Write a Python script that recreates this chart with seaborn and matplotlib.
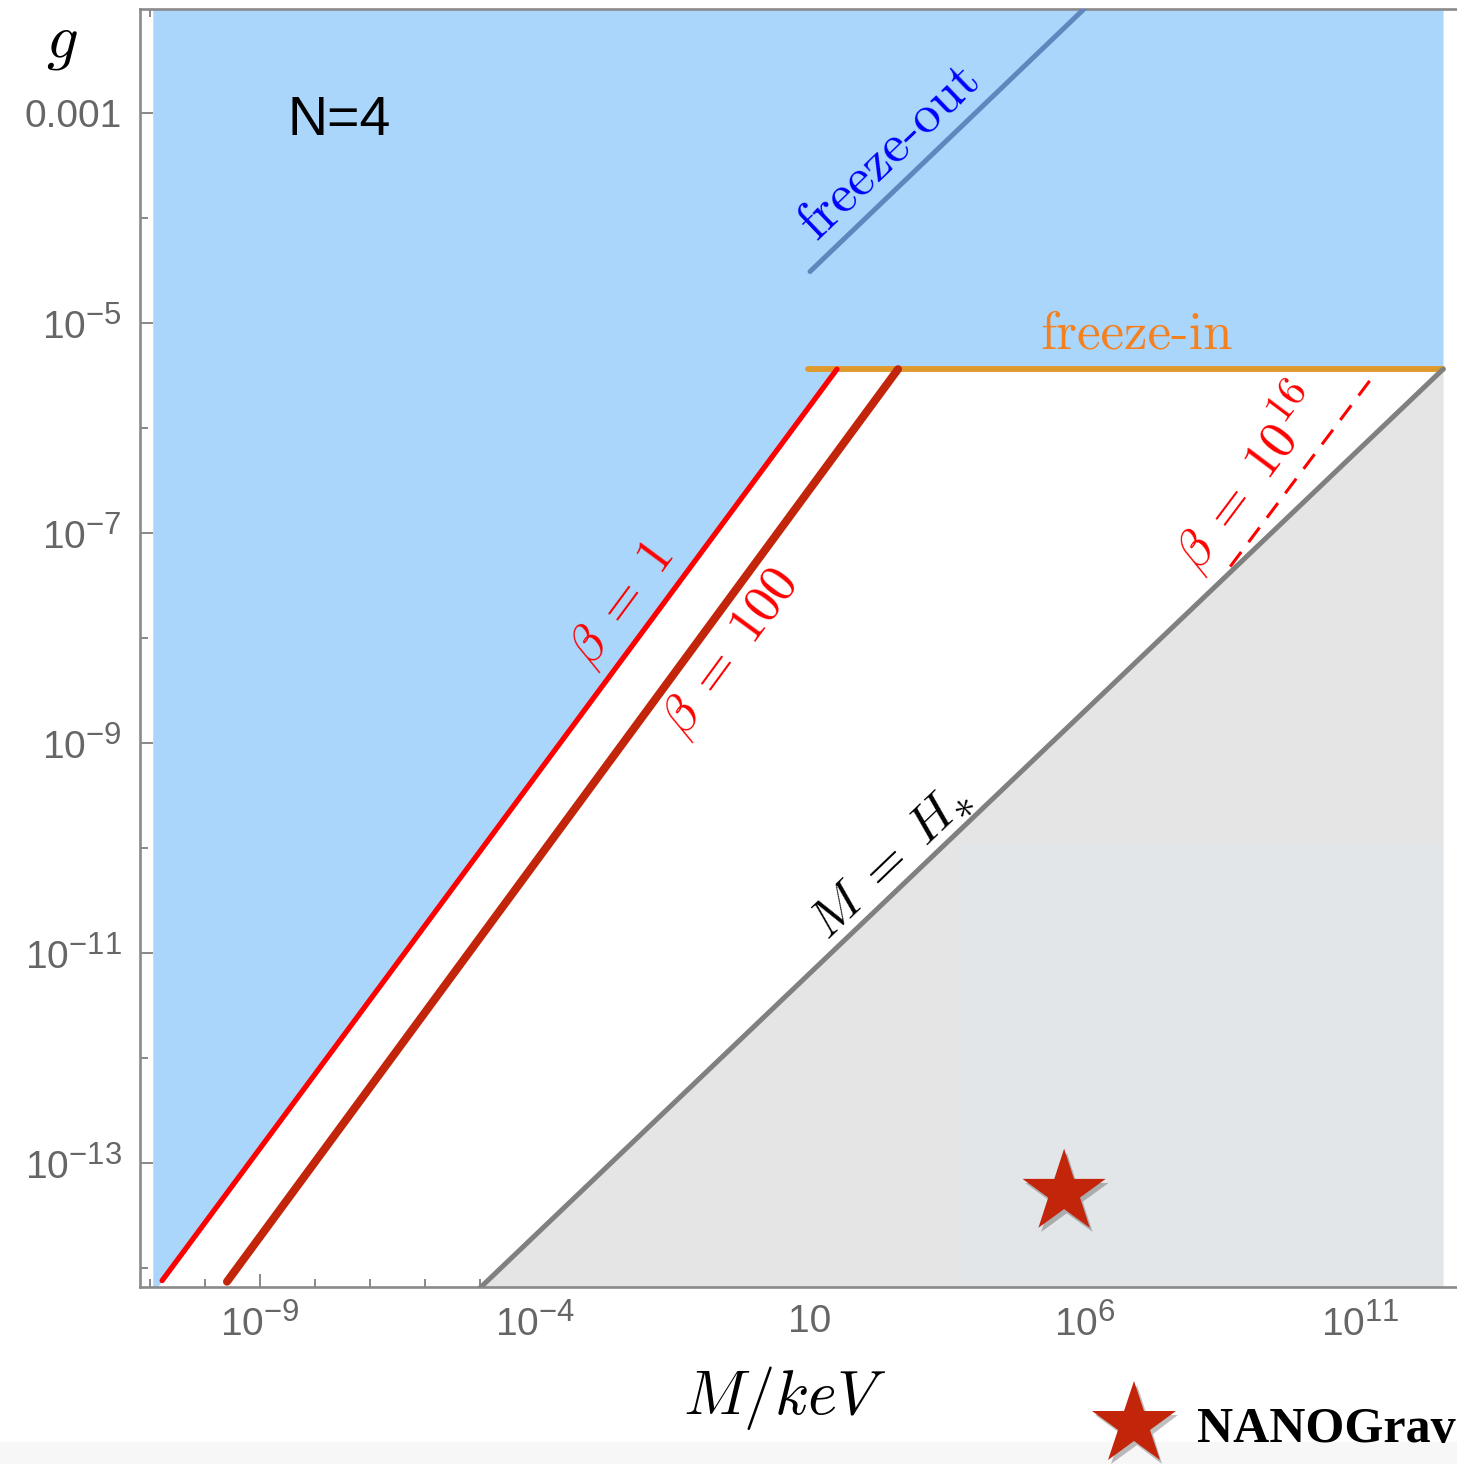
import numpy as np
import matplotlib
matplotlib.use("Agg")
import matplotlib.pyplot as plt
import matplotlib._mathtext as _mt
import seaborn as sns
from matplotlib.lines import Line2D
from matplotlib.patches import Rectangle
from matplotlib.ticker import FixedLocator, NullFormatter
import matplotlib.patheffects as pe

# larger superscripts (Mathematica-like exponent size)
_mt.SHRINK_FACTOR = 0.8

# ---------------- data (log10 of M/keV and of g) ----------------
freeze_out_logM = [1.0, 6.0]
freeze_out_logg = [-4.51, -2.0]
freeze_in_logM = [0.96, 12.51]
freeze_in_logg = [-5.44, -5.44]
beta1_logM = [-10.78, 1.49]
beta1_logg = [-14.12, -5.44]
beta100_logM = [-9.60, 2.60]
beta100_logg = [-14.13, -5.44]
beta100_edge_logM = [-9.55, 2.65]
beta1e16_logM = [8.64, 11.22]
beta1e16_logg = [-7.32, -5.52]
mh_logM = [-5.0, 12.51]
mh_logg = [-14.19, -5.44]
blue_edge_logM = [-10.95, -10.78, 1.49, 12.51]
blue_edge_logg = [-14.24, -14.12, -5.44, -5.44]
inset_logM = [3.69, 12.51]
inset_top_logg = [-9.95, -9.95]
nanograv_logM = [5.62]
nanograv_logg = [-13.28]

xtick_exps = [-9, -4, 1, 6, 11]
xtick_labels = [r"$10^{-9}$", r"$10^{-4}$", "10", r"$10^{6}$", r"$10^{11}$"]
ytick_exps = [-3, -5, -7, -9, -11, -13]
ytick_labels = ["0.001", r"$10^{-5}$", r"$10^{-7}$", r"$10^{-9}$", r"$10^{-11}$", r"$10^{-13}$"]
xminor_exps = [e for e in range(-11, 14) if e not in xtick_exps]
yminor_exps = [e for e in range(-14, -1) if e not in ytick_exps]

def P(a):
    return 10.0 ** np.asarray(a, dtype=float)

# ---------------- style ----------------
sns.set_style("ticks")
plt.rcParams["font.family"] = ["Liberation Sans", "DejaVu Sans"]
plt.rcParams["mathtext.fontset"] = "custom"
plt.rcParams["mathtext.rm"] = "Liberation Sans"
plt.rcParams["mathtext.it"] = "Liberation Sans:italic"
plt.rcParams["mathtext.bf"] = "Liberation Sans:bold"

W, H = 1457, 1464
fig = plt.figure(figsize=(W / 100, H / 100), dpi=100)
fig.patch.set_facecolor("white")
ax = fig.add_axes([140 / W, (H - 1287) / H, (1470 - 140) / W, (1287 - 9) / H])
ax.set_facecolor("white")
ax.set_xscale("log")
ax.set_yscale("log")
ax.set_xlim(10 ** -11.182, 10 ** 13.0)
ax.set_ylim(10 ** -14.181, 10 ** -2.0095)

# ---------------- fills ----------------
ax.fill_between(P(blue_edge_logM), P(blue_edge_logg), 10 ** -1.9,
                color="#aad6fc", lw=0, zorder=1)
ax.fill_between(P(mh_logM), P(mh_logg), 10 ** -14.5,
                color="#e5e5e5", lw=0, zorder=1)
ax.fill_between(P(inset_logM), P(inset_top_logg), 10 ** -14.5,
                color="#e3e6e9", lw=0, zorder=1.1)

# ---------------- lines ----------------
sns.lineplot(x=P(freeze_out_logM), y=P(freeze_out_logg), ax=ax, color="#5f87bd",
             lw=3.6, legend=False, zorder=3)
sns.lineplot(x=P(freeze_in_logM), y=P(freeze_in_logg), ax=ax, color="#e0992b",
             lw=4.2, legend=False, zorder=3)
sns.lineplot(x=P(mh_logM), y=P(mh_logg), ax=ax, color="#808080",
             lw=3.6, legend=False, zorder=3)
sns.lineplot(x=P(beta1_logM), y=P(beta1_logg), ax=ax, color="#ff0000",
             lw=3.8, legend=False, zorder=4)
sns.lineplot(x=P(beta100_edge_logM), y=P(beta100_logg), ax=ax, color="#2fb52f",
             lw=1.2, legend=False, zorder=3.9)
sns.lineplot(x=P(beta100_logM), y=P(beta100_logg), ax=ax, color="#c3250b",
             lw=5.8, legend=False, zorder=4)
sns.lineplot(x=P(beta1e16_logM), y=P(beta1e16_logg), ax=ax, color="#ff0000",
             lw=2.2, legend=False, zorder=4, linestyle=(0, (6, 4)))

# ---------------- NANOGrav star ----------------
shadow = [pe.SimplePatchShadow(offset=(2, -3), shadow_rgbFace="k", alpha=0.25), pe.Normal()]
sns.scatterplot(x=P(nanograv_logM), y=P(nanograv_logg), ax=ax, marker="*",
                s=63 ** 2, color="#c3250b", linewidth=0, legend=False, zorder=5)
for coll in ax.collections[-1:]:
    coll.set_path_effects(shadow)

# ---------------- ticks & spines ----------------
ax.xaxis.set_major_locator(FixedLocator(P(xtick_exps)))
ax.set_xticklabels(xtick_labels)
ax.xaxis.set_minor_locator(FixedLocator(P(xminor_exps)))
ax.xaxis.set_minor_formatter(NullFormatter())
ax.yaxis.set_major_locator(FixedLocator(P(ytick_exps)))
ax.set_yticklabels(ytick_labels)
ax.yaxis.set_minor_locator(FixedLocator(P(yminor_exps)))
ax.yaxis.set_minor_formatter(NullFormatter())

ax.tick_params(which="both", direction="in", top=True, right=True,
               color="#888888", width=1.4, labelcolor="#666666", labelsize=28)
ax.tick_params(which="major", length=9.5)
ax.tick_params(which="minor", length=6)
ax.tick_params(axis="x", which="major", pad=12)
ax.tick_params(axis="y", which="major", pad=13)
for s in ax.spines.values():
    s.set_color("#8a8a8a")
    s.set_linewidth(1.9)
    s.set_visible(True)
ax.grid(False)

# ---------------- annotations ----------------
fig.canvas.draw()

def angle_of(xs, ys):
    p = ax.transData.transform(np.column_stack([P(xs), P(ys)]))
    return np.degrees(np.arctan2(p[-1, 1] - p[0, 1], p[-1, 0] - p[0, 0]))

ax.text(10 ** -7.56, 10 ** -3.08, "N=4", fontsize=40, color="black",
        ha="center", va="center", family="Liberation Sans", zorder=6)
ax.text(10 ** 2.45, 10 ** -3.37, "freeze-out", fontsize=39, color="#0000ff",
        family="cmr10", ha="center", va="center", rotation_mode="anchor",
        rotation=angle_of(freeze_out_logM, freeze_out_logg), zorder=6)
ax.text(10 ** 6.945, 10 ** -5.11, "freeze-in", fontsize=38, color="#f5801e",
        family="cmr10", ha="center", va="center", zorder=6)
ax.text(10 ** -2.42, 10 ** -7.68, r"$\beta\;=\;1$", fontsize=38, color="#ff0000",
        math_fontfamily="cm", ha="center", va="center", rotation_mode="anchor",
        rotation=angle_of(beta1_logM, beta1_logg), zorder=6)
ax.text(10 ** -0.45, 10 ** -8.14, r"$\beta\;=\;100$", fontsize=38, color="#ff0000",
        math_fontfamily="cm", ha="center", va="center", rotation_mode="anchor",
        rotation=angle_of(beta100_logM, beta100_logg), zorder=6)
ax.text(10 ** 8.945, 10 ** -6.47, r"$\beta\;=\;10^{16}$", fontsize=38, color="#ff0000",
        math_fontfamily="cm", ha="center", va="center", rotation_mode="anchor",
        rotation=angle_of(beta1e16_logM, beta1e16_logg), zorder=6)
ax.text(10 ** 2.45, 10 ** -10.13, r"$M\;=\;H_{*}$", fontsize=38, color="black",
        math_fontfamily="cm", ha="center", va="center", rotation_mode="anchor",
        rotation=angle_of(mh_logM, mh_logg), zorder=6)

fig.text(62 / W, 1 - 42 / H, r"$g$", fontsize=45, math_fontfamily="cm",
         ha="center", va="center", color="black")
fig.text(785 / W, 1 - 1398 / H, r"$M/keV$", fontsize=45, math_fontfamily="cm",
         ha="center", va="center", color="black")

# bottom light strip
fig.add_artist(Rectangle((0, 0), 1, 22 / H, transform=fig.transFigure,
                         facecolor="#f7f7f7", edgecolor="none", zorder=-1))

# legend
handle = Line2D([], [], marker="*", ms=63, color="#c3250b", ls="none", mew=0,
                path_effects=shadow)
leg = fig.legend(handles=[handle], labels=["NANOGrav"], loc="center left",
                 bbox_to_anchor=(1109 / W, 1 - 1430 / H), bbox_transform=fig.transFigure,
                 frameon=False,
                 prop={"family": "Liberation Serif", "weight": "bold", "size": 36},
                 handlelength=1.0, handletextpad=0.76, borderpad=0, borderaxespad=0)
for t in leg.get_texts():
    t.set_color("black")

fig.savefig("out.png", dpi=100, facecolor="white")
